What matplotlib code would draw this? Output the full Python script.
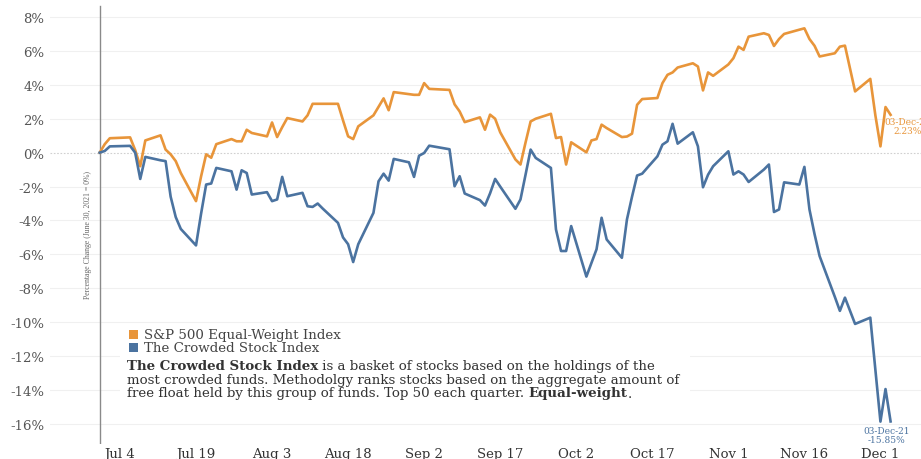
import matplotlib
matplotlib.use("Agg")
import matplotlib.pyplot as plt
import pandas as pd
from matplotlib.patches import Rectangle

# ---------------- data ----------------
sp_dates = ["2021-06-30","2021-07-01","2021-07-02","2021-07-06","2021-07-07","2021-07-08","2021-07-09",
            "2021-07-12","2021-07-13","2021-07-14","2021-07-15","2021-07-16","2021-07-19","2021-07-20",
            "2021-07-21","2021-07-22","2021-07-23","2021-07-26","2021-07-27","2021-07-28","2021-07-29",
            "2021-07-30","2021-08-02","2021-08-03","2021-08-04","2021-08-05","2021-08-06","2021-08-09",
            "2021-08-10","2021-08-11","2021-08-12","2021-08-13","2021-08-16","2021-08-17","2021-08-18",
            "2021-08-19","2021-08-20","2021-08-23","2021-08-24","2021-08-25","2021-08-26","2021-08-27",
            "2021-08-30","2021-08-31","2021-09-01","2021-09-02","2021-09-03","2021-09-07","2021-09-08",
            "2021-09-09","2021-09-10","2021-09-13","2021-09-14","2021-09-15","2021-09-16","2021-09-17",
            "2021-09-20","2021-09-21","2021-09-22","2021-09-23","2021-09-24","2021-09-27","2021-09-28",
            "2021-09-29","2021-09-30","2021-10-01","2021-10-04","2021-10-05","2021-10-06","2021-10-07",
            "2021-10-08","2021-10-11","2021-10-12","2021-10-13","2021-10-14","2021-10-15","2021-10-18",
            "2021-10-19","2021-10-20","2021-10-21","2021-10-22","2021-10-25","2021-10-26","2021-10-27",
            "2021-10-28","2021-10-29","2021-11-01","2021-11-02","2021-11-03","2021-11-04","2021-11-05",
            "2021-11-08","2021-11-09","2021-11-10","2021-11-11","2021-11-12","2021-11-15","2021-11-16",
            "2021-11-17","2021-11-18","2021-11-19","2021-11-22","2021-11-23","2021-11-24","2021-11-26",
            "2021-11-29","2021-11-30","2021-12-01","2021-12-02","2021-12-03"]

sp_values = [0.0, 0.5, 0.85, 0.9, 0.15, -0.8, 0.72,
             1.02, 0.18, -0.1, -0.5, -1.2, -2.86, -1.4,
             -0.1, -0.3, 0.5, 0.8, 0.67, 0.67, 1.35,
             1.16, 0.96, 1.78, 0.92, 1.5, 2.04, 1.84,
             2.2, 2.88, 2.88, 2.88, 2.88, 1.9, 0.96,
             0.8, 1.55, 2.2, 2.7, 3.2, 2.5, 3.57,
             3.45, 3.41, 3.41, 4.1, 3.76, 3.7, 2.85,
             2.43, 1.8, 2.08, 1.35, 2.24, 2.0, 1.2,
             -0.4, -0.7, 0.6, 1.84, 2.0, 2.29, 0.86,
             0.92, -0.7, 0.61, 0.02, 0.72, 0.8, 1.65,
             1.45, 0.92, 0.95, 1.12, 2.82, 3.16, 3.22,
             4.1, 4.59, 4.73, 5.02, 5.27, 5.08, 3.67,
             4.73, 4.53, 5.2, 5.57, 6.25, 6.06, 6.84,
             7.04, 6.94, 6.29, 6.7, 7.0, 7.25, 7.33,
             6.7, 6.3, 5.67, 5.86, 6.25, 6.31, 3.61,
             4.35, 2.2, 0.37, 2.69, 2.23]

crowd_dates = sp_dates
crowd_values = [0.0, 0.1, 0.37, 0.4, 0.0, -1.55, -0.25,
                -0.45, -0.5, -2.6, -3.8, -4.5, -5.47, -3.6,
                -1.88, -1.82, -0.9, -1.1, -2.18, -1.04, -1.2,
                -2.47, -2.33, -2.86, -2.76, -1.43, -2.57, -2.37,
                -3.16, -3.2, -3.0, -3.3, -4.14, -5.0, -5.4,
                -6.45, -5.4, -3.55, -1.69, -1.24, -1.65, -0.37,
                -0.57, -1.43, -0.18, -0.02, 0.41, 0.2, -1.98,
                -1.39, -2.41, -2.8, -3.12, -2.4, -1.55, -2.0,
                -3.31, -2.76, -1.3, 0.18, -0.31, -0.9, -4.53,
                -5.8, -5.8, -4.33, -7.31, -6.5, -5.7, -3.84,
                -5.12, -6.2, -3.94, -2.6, -1.35, -1.24, -0.22,
                0.47, 0.67, 1.7, 0.53, 1.2, 0.37, -2.04,
                -1.3, -0.8, 0.08, -1.29, -1.1, -1.29, -1.73,
                -1.0, -0.7, -3.5, -3.35, -1.75, -1.88, -0.84,
                -3.35, -4.8, -6.1, -8.5, -9.33, -8.55, -10.1,
                -9.73, -12.8, -15.86, -13.94, -15.85]

series_names = ["S&P 500 Equal-Weight Index", "The Crowded Stock Index"]
tick_dates = ["2021-07-04","2021-07-19","2021-08-03","2021-08-18","2021-09-02","2021-09-17",
              "2021-10-02","2021-10-17","2021-11-01","2021-11-16","2021-12-01"]
tick_labels = ["Jul 4","Jul 19","Aug 3","Aug 18","Sep 2","Sep 17","Oct 2","Oct 17","Nov 1","Nov 16","Dec 1"]
y_ticks = [8, 6, 4, 2, 0, -2, -4, -6, -8, -10, -12, -14, -16]
end_labels = ["03-Dec-21\n2.23%", "03-Dec-21\n-15.85%"]

# ---------------- style ----------------
ORANGE = "#E8953A"
BLUE = "#4B73A0"
TXT = "#444444"
plt.rcParams["font.family"] = ["DejaVu Serif"]

W, H = 921, 460
fig = plt.figure(figsize=(W / 100, H / 100), dpi=100)
ax = fig.add_axes([50 / W, 15 / H, (W - 50) / W, 445 / H])

sp_x = pd.to_datetime(sp_dates)
cr_x = pd.to_datetime(crowd_dates)
start = pd.Timestamp("2021-06-30")

ax.plot(sp_x, sp_values, color=ORANGE, lw=1.9, zorder=3)
ax.plot(cr_x, crowd_values, color=BLUE, lw=1.9, zorder=3)

ax.set_xlim(start - pd.Timedelta(days=9.8), start + pd.Timedelta(days=162))
ax.set_ylim(-17.18, 9.06)

for s in ax.spines.values():
    s.set_visible(False)

ax.set_yticks(y_ticks)
ax.set_yticklabels([f"{v}%" for v in y_ticks])
ax.set_xticks(pd.to_datetime(tick_dates))
ax.set_xticklabels(tick_labels)
ax.tick_params(axis="both", length=0, labelsize=9.5)
ax.tick_params(axis="y", pad=4, colors="#555555")
ax.tick_params(axis="x", pad=2, colors="#333333")

for v in y_ticks:
    if v == 0:
        ax.axhline(v, color="#D0D0D0", lw=0.8, ls=(0, (1.5, 1.5)), zorder=1)
    else:
        ax.axhline(v, color="#F0F0F0", lw=0.8, zorder=1)

ax.axvline(start, ymin=0, ymax=(445 - 7) / 445, color="#8A8A8A", lw=1.0, zorder=2)

ax.text(start - pd.Timedelta(days=1.5), -4.8, "Percentage Change (June 30, 2021 = 0%)",
        rotation=90, ha="right", va="center", fontsize=5.6, color="#666666",
        family="Liberation Serif")

# end labels
ax.annotate(end_labels[0], xy=(sp_x[-1], sp_values[-1]), xytext=(12, -8),
            textcoords="offset points", ha="center", va="center", fontsize=6.5,
            color=ORANGE, linespacing=1.0)
ax.annotate(end_labels[1], xy=(cr_x[-1], crowd_values[-1]), xytext=(-3, -10),
            textcoords="offset points", ha="center", va="center", fontsize=6.5,
            color=BLUE, linespacing=1.0)

# legend + description (drawn in figure pixel coordinates, above the lines)
trans = fig.transFigure
def fx(px):
    return px / W
def fy(py):
    return 1 - py / H

ax.add_patch(Rectangle((fx(120), fy(408)), 570 / W, 83 / H, transform=trans,
                       facecolor="white", edgecolor="none", zorder=4, clip_on=False))
FS = 9.6
for i, (name, col) in enumerate(zip(series_names, [ORANGE, BLUE])):
    yy = 335 + i * 13.5
    ax.add_patch(Rectangle((fx(129), fy(yy + 4.5)), 9 / W, 9 / H, transform=trans,
                           facecolor=col, edgecolor="none", zorder=5, clip_on=False))
    ax.text(fx(144), fy(yy), name, transform=trans, ha="left", va="center",
            fontsize=FS, color=TXT, zorder=6)

para = [
    [("The Crowded Stock Index", "bold"), (" is a basket of stocks based on the holdings of the", "normal")],
    [("most crowded funds. Methodolgy ranks stocks based on the aggregate amount of", "normal")],
    [("free float held by this group of funds. Top 50 each quarter. ", "normal"), ("Equal-weight", "bold"), (".", "normal")],
]
for i, parts in enumerate(para):
    yy = 367 + i * 13.5
    prev = None
    for txt, wt in parts:
        if prev is None:
            prev = ax.text(fx(127), fy(yy), txt, transform=trans, ha="left", va="center",
                           fontsize=FS, color="#333333", weight=wt, zorder=6)
        else:
            prev = ax.annotate(txt, xy=(1, 0), xycoords=prev, ha="left", va="bottom",
                               fontsize=FS, color="#333333", weight=wt, zorder=6,
                               annotation_clip=False)

fig.savefig("out.png", dpi=100, facecolor="white")
